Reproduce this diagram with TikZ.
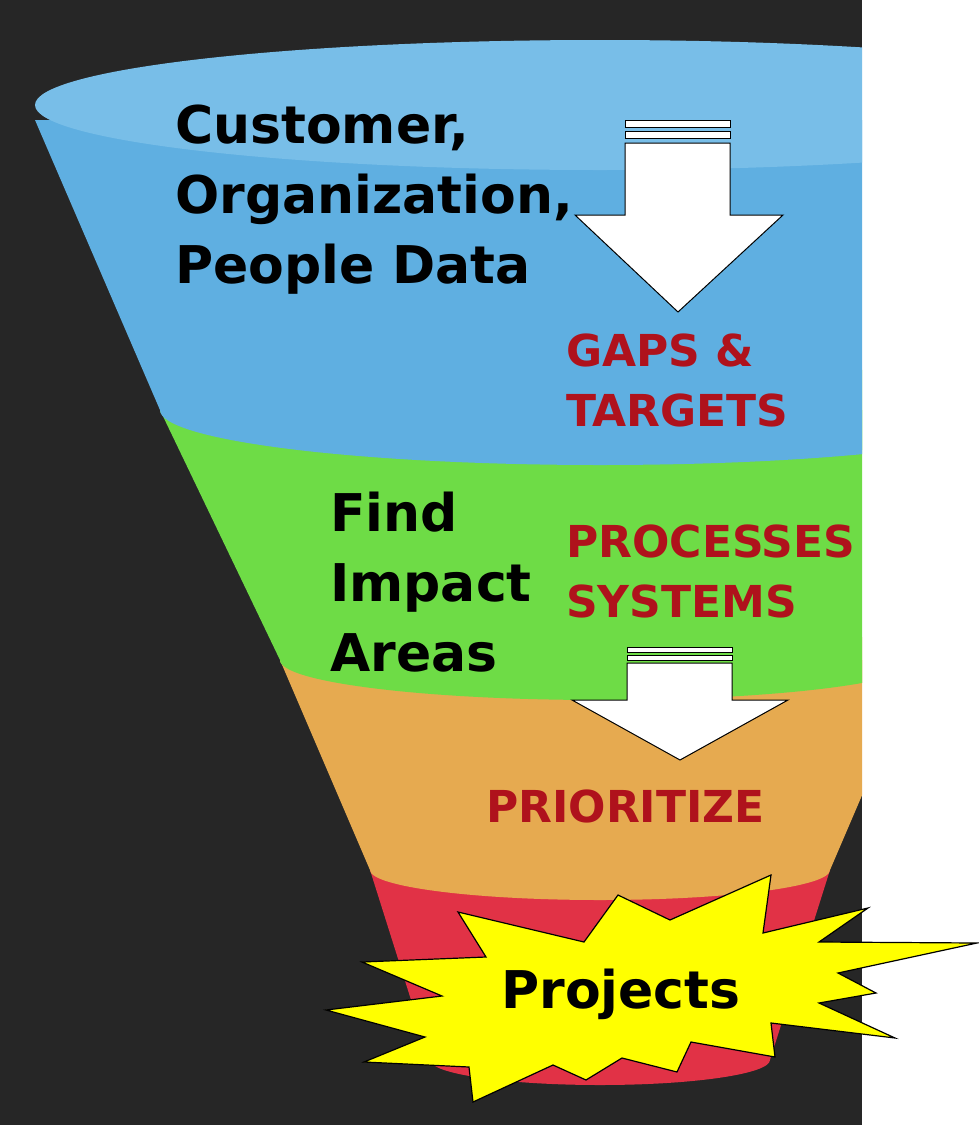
\documentclass[tikz,border=0pt]{standalone}
\usepackage{fontspec}
\setmainfont{DejaVu Sans}
\begin{document}
\begin{tikzpicture}[x=1pt,y=-1pt,
  lbl/.style={font=\bfseries\fontsize{52}{70}\selectfont,align=left,anchor=north west,inner sep=0pt},
  rlbl/.style={font=\bfseries\fontsize{44}{60}\selectfont,text=redt,align=left,anchor=north west,inner sep=0pt},
  barr/.style={fill=white,draw=black,line width=1pt}]
\definecolor{bg}{RGB}{38,38,38}
\definecolor{blueb}{RGB}{95,175,225}
\definecolor{bluet}{RGB}{120,190,232}
\definecolor{greenb}{RGB}{110,220,70}
\definecolor{orangeb}{RGB}{230,170,80}
\definecolor{redb}{RGB}{225,50,70}
\definecolor{redt}{RGB}{175,18,28}
\definecolor{starc}{RGB}{255,255,0}
\useasboundingbox (0,0) rectangle (978,1125);
\fill[bg] (0,0) rectangle (862,1125);
\begin{scope}
\clip (0,0) rectangle (862,1125);
% red
\fill[redb] (600,870) ellipse[x radius=230,y radius=30];
\fill[redb] (370,870) -- (430,1060) arc[start angle=180,end angle=0,x radius=170,y radius=25] -- (830,870) -- cycle;
% orange
\fill[orangeb] (600,660) ellipse[x radius=320,y radius=40];
\fill[orangeb] (280,660) -- (370,870) arc[start angle=180,end angle=0,x radius=230,y radius=30] -- (920,660) -- cycle;
% green
\fill[greenb] (600,410) ellipse[x radius=440,y radius=50];
\fill[greenb] (160,410) -- (280,660) arc[start angle=180,end angle=0,x radius=320,y radius=40] -- (1040,410) -- cycle;
% blue
\fill[blueb] (35,120) -- (160,410) arc[start angle=180,end angle=0,x radius=440,y radius=55] -- (1165,120) -- cycle;
\fill[bluet] (600,105) ellipse[x radius=565,y radius=65];
\end{scope}
% arrows
\draw[barr] (625,120) rectangle (730,127);
\draw[barr] (625,131) rectangle (730,138);
\draw[barr] (625,143) -- (730,143) -- (730,215) -- (783,215) -- (678,312) -- (575,215) -- (625,215) -- cycle;
\draw[barr] (627,647) rectangle (732,652);
\draw[barr] (627,655) rectangle (732,660);
\draw[barr] (627,663) -- (732,663) -- (732,700) -- (788,700) -- (680,760) -- (572,700) -- (627,700) -- cycle;
% texts
\node[lbl] (cust) at (175,105) {Customer,\\Organization,\\People Data};
\node[lbl] (find) at (330,492) {Find\\Impact\\Areas};
\node[rlbl] (gaps) at (566,334) {GAPS \&\\TARGETS};
\node[rlbl] (proc) at (566,525) {PROCESSES\\SYSTEMS};
\node[rlbl] (prio) at (486,790) {PRIORITIZE};
% star
\draw[fill=starc,draw=black,line width=1.2pt] (458,912) -- (486,957) -- (362,962) -- (442,996) -- (326,1010) -- (425,1037) -- (364,1062) -- (469,1067) -- (473,1102) -- (553,1065) -- (586,1080) -- (622,1058) -- (677,1072) -- (691,1042) -- (775,1057) -- (771,1023) -- (895,1038) -- (819,1003) -- (876,993) -- (838,973) -- (977,943) -- (819,942) -- (868,908) -- (763,933) -- (771,875) -- (670,920) -- (618,895) -- (584,942) -- cycle;
\node[font=\bfseries\fontsize{52}{56}\selectfont,inner sep=0pt] (proj) at (621,994) {Projects};
\end{tikzpicture}
\end{document}
